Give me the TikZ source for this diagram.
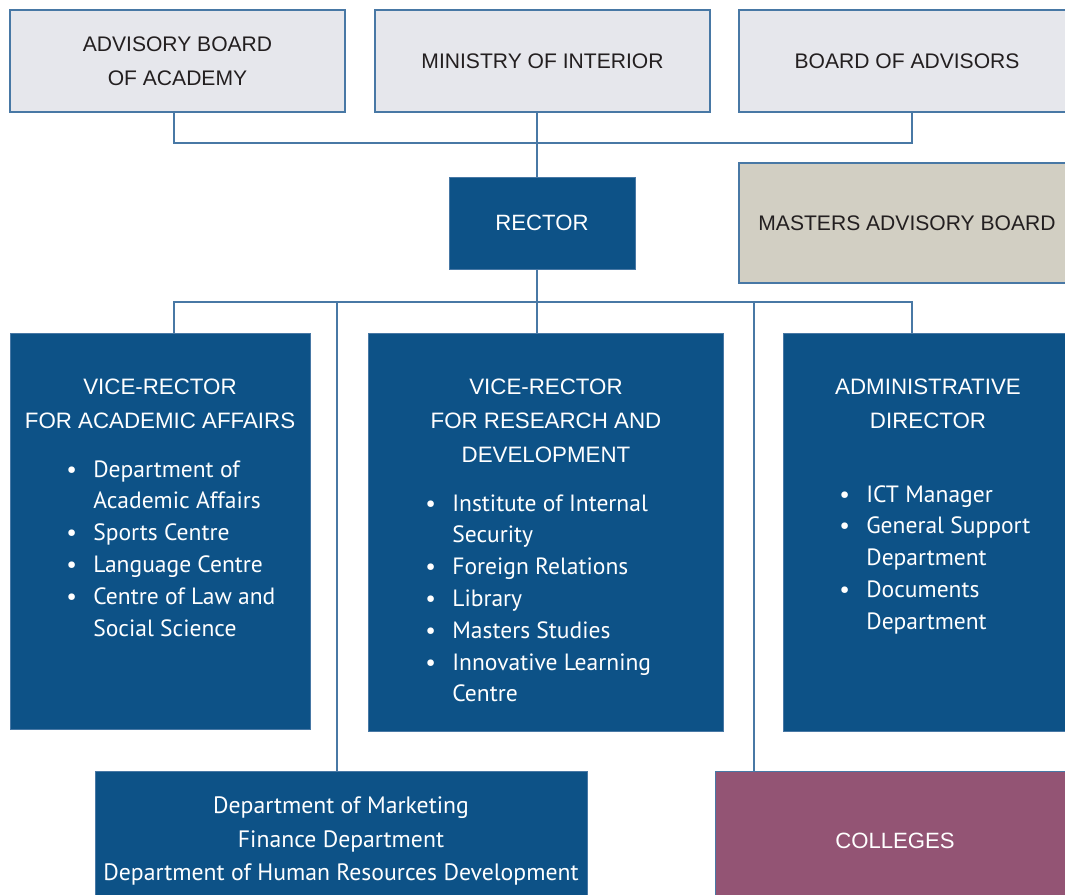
\documentclass[tikz,border=0pt]{standalone}
\usepackage{fontspec}
\usepackage{tikz}
\setmainfont{Liberation Sans}
\newfontfamily\bodyfont{PT Sans}

\definecolor{boxblue}{RGB}{13,82,135}
\definecolor{boxgrey}{RGB}{230,231,236}
\definecolor{boxtan}{RGB}{210,207,195}
\definecolor{boxplum}{RGB}{147,84,116}
\definecolor{edgeblue}{RGB}{72,120,165}
\definecolor{inkdark}{RGB}{35,31,32}

% bullet and continuation for the lists
\newcommand{\bul}{\makebox[0.54cm][l]{\textbullet}}
\newcommand{\cnt}{\hspace*{0.54cm}}

\begin{document}
\begin{tikzpicture}
		[
			x=0.02cm, y=-0.02cm,
			lnode/.style = {rectangle, align=center, draw=edgeblue, line width=1pt, fill=boxgrey, text=inkdark, font=\fontsize{12}{19.3}\selectfont},
			tnode/.style = {rectangle, align=center, draw=edgeblue, line width=1pt, fill=boxtan, text=inkdark, font=\fontsize{12}{19.3}\selectfont},
			bnode/.style = {rectangle, align=center, draw=edgeblue, line width=0.5pt, fill=boxblue, text=white, font=\fontsize{12.6}{19.3}\selectfont},
			pnode/.style = {rectangle, align=center, draw=edgeblue, line width=0.5pt, fill=boxplum, text=white, font=\fontsize{12.6}{19.3}\selectfont},
			head/.style = {align=center, inner sep=0pt, text=white, font=\fontsize{12.7}{19.3}\selectfont},
			list/.style = {align=left, inner sep=0pt, anchor=north west, text=white, font=\bodyfont\fontsize{13.4}{18.1}\selectfont},
			link/.style = {draw=edgeblue, line width=0.85pt},
		]
		\useasboundingbox (0,0) rectangle (1065,895);
		\clip (0,0) rectangle (1065,895);

		% top row
		\node[lnode, minimum width=6.7cm, minimum height=2.04cm] (adv) 	at ( 177.5,  61 ) {ADVISORY BOARD\\OF ACADEMY};
		\node[lnode, minimum width=6.7cm, minimum height=2.04cm] (mint) 	at ( 542.5,  61 ) {MINISTRY OF INTERIOR};
		\node[lnode, minimum width=6.72cm, minimum height=2.04cm] (boa) 	at ( 907,  61 ) {BOARD OF ADVISORS};

		% rector
		\node[bnode, minimum width=3.72cm, minimum height=1.84cm] (rector) 	at ( 542,  223 ) {RECTOR};
		\node[tnode, minimum width=6.72cm, minimum height=2.4cm] (mab) 	at ( 907,  223 ) {MASTERS ADVISORY BOARD};

		% vice-rectors and director
		\node[bnode, minimum width=6.0cm, minimum height=7.92cm] (vra) 	at ( 160,  531 ) {};
		\node[bnode, minimum width=7.1cm, minimum height=7.96cm] (vrr) 	at ( 545.5,  532 ) {};
		\node[bnode, minimum width=5.84cm, minimum height=7.96cm] (adm) 	at ( 929,  532 ) {};

		\node[head] (vra-h) 	at ( 160,  404 ) {VICE-RECTOR\\FOR ACADEMIC AFFAIRS};
		\node[head] (vrr-h) 	at ( 546,  421 ) {VICE-RECTOR\\FOR RESEARCH AND\\DEVELOPMENT};
		\node[head] (adm-h) 	at ( 928,  404 ) {ADMINISTRATIVE\\DIRECTOR};

		\node[list] (vra-l) 	at ( 66,  460 ) {\bul Department of\\\cnt Academic Affairs\\\bul Sports Centre\\\bul Language Centre\\\bul Centre of Law and\\\cnt Social Science};
		\node[list] (vrr-l) 	at ( 425,  494 ) {\bul Institute of Internal\\\cnt Security\\\bul Foreign Relations\\\bul Library\\\bul Masters Studies\\\bul Innovative Learning\\\cnt Centre};
		\node[list] (adm-l) 	at ( 839,  485 ) {\bul ICT Manager\\\bul General Support\\\cnt Department\\\bul Documents\\\cnt Department};

		% bottom row
		\node[bnode, minimum width=9.84cm, minimum height=2.8cm, font=\bodyfont\fontsize{13.5}{19.3}\selectfont] (fin) 	at ( 341,  841 ) {Department of Marketing\\Finance Department\\Department of Human Resources Development};
		\node[pnode, minimum width=7.2cm, minimum height=2.8cm] (col) 	at ( 895,  841 ) {COLLEGES};

		% bus lines
		\coordinate (b1l) at ( 174, 143 );
		\coordinate (b1r) at ( 912, 143 );
		\coordinate (b2l) at ( 174, 302 );
		\coordinate (b2r) at ( 912, 302 );
		\coordinate (c0) at ( 537, 302 );
		\coordinate (j1) at ( 337, 302 );
		\coordinate (j2) at ( 754, 302 );

		\draw[link] (b1l |- adv.south) -- (b1l) -- (b1r) -- (b1r |- boa.south);
		\draw[link] (b2l |- vra.north) -- (b2l) -- (b2r) -- (b2r |- adm.north);

		\foreach \from/\to in {mint.south/rector.north,rector.south/vrr.north}
		\draw[link] (c0 |- \from) -- (c0 |- \to);

		\draw[link] (j1) -- (j1 |- fin.north);
		\draw[link] (j2) -- (j2 |- col.north);

		\end{tikzpicture}
\end{document}
